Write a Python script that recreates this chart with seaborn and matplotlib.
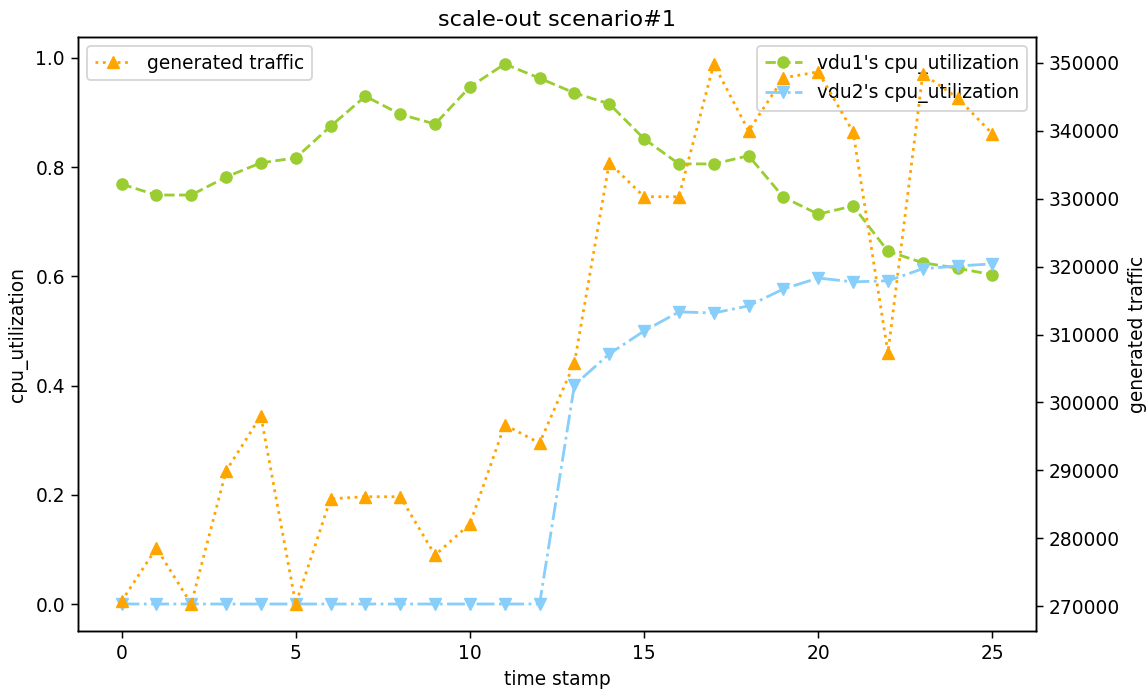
import matplotlib
matplotlib.use("Agg")
import matplotlib.pyplot as plt
import seaborn as sns
import numpy as np

time_stamp = list(range(26))
vdu1_cpu = [0.769, 0.749, 0.749, 0.782, 0.808, 0.817, 0.875, 0.930, 0.897, 0.879,
            0.947, 0.989, 0.963, 0.936, 0.916, 0.852, 0.806, 0.806, 0.821, 0.745,
            0.714, 0.729, 0.646, 0.625, 0.615, 0.603]
vdu2_cpu = [0, 0, 0, 0, 0, 0, 0, 0, 0, 0, 0, 0, 0,
            0.401, 0.458, 0.500, 0.535, 0.533, 0.546, 0.577, 0.597, 0.590, 0.592,
            0.614, 0.619, 0.623]
traffic = [270700, 278550, 270300, 289900, 298000, 270300, 285800, 286100, 286100, 277500,
           282100, 296700, 294000, 305800, 335300, 330300, 330300, 349850, 340000, 347800,
           348700, 339850, 307300, 348400, 344850, 339550]

plt.style.use('default')
plt.rcParams['font.family'] = ['DejaVu Sans']

DPI = 134
fig, ax1 = plt.subplots(figsize=(1147/DPI, 690/DPI), dpi=DPI)
fig.subplots_adjust(left=78/1147, right=1036/1147, top=1-37/690, bottom=1-631/690)

sns.lineplot(x=time_stamp, y=vdu1_cpu, ax=ax1, color='yellowgreen', linestyle='--',
             marker='o', markersize=6, markeredgecolor='yellowgreen',
             label="vdu1's cpu_utilization")
sns.lineplot(x=time_stamp, y=vdu2_cpu, ax=ax1, color='lightskyblue', linestyle='-.',
             marker='v', markersize=6, markeredgecolor='lightskyblue',
             label="vdu2's cpu_utilization")
ax1.set_xlabel('time stamp')
ax1.set_ylabel('cpu_utilization')
ax1.set_title('scale-out scenario#1')
ax1.legend(loc='upper right')

ax2 = ax1.twinx()
sns.lineplot(x=time_stamp, y=traffic, ax=ax2, color='orange', linestyle=':',
             marker='^', markersize=6, markeredgecolor='orange',
             label='generated traffic')
ax2.set_ylabel('generated traffic')
ax2.legend(loc='upper left')

fig.savefig('out.png', dpi=DPI)
